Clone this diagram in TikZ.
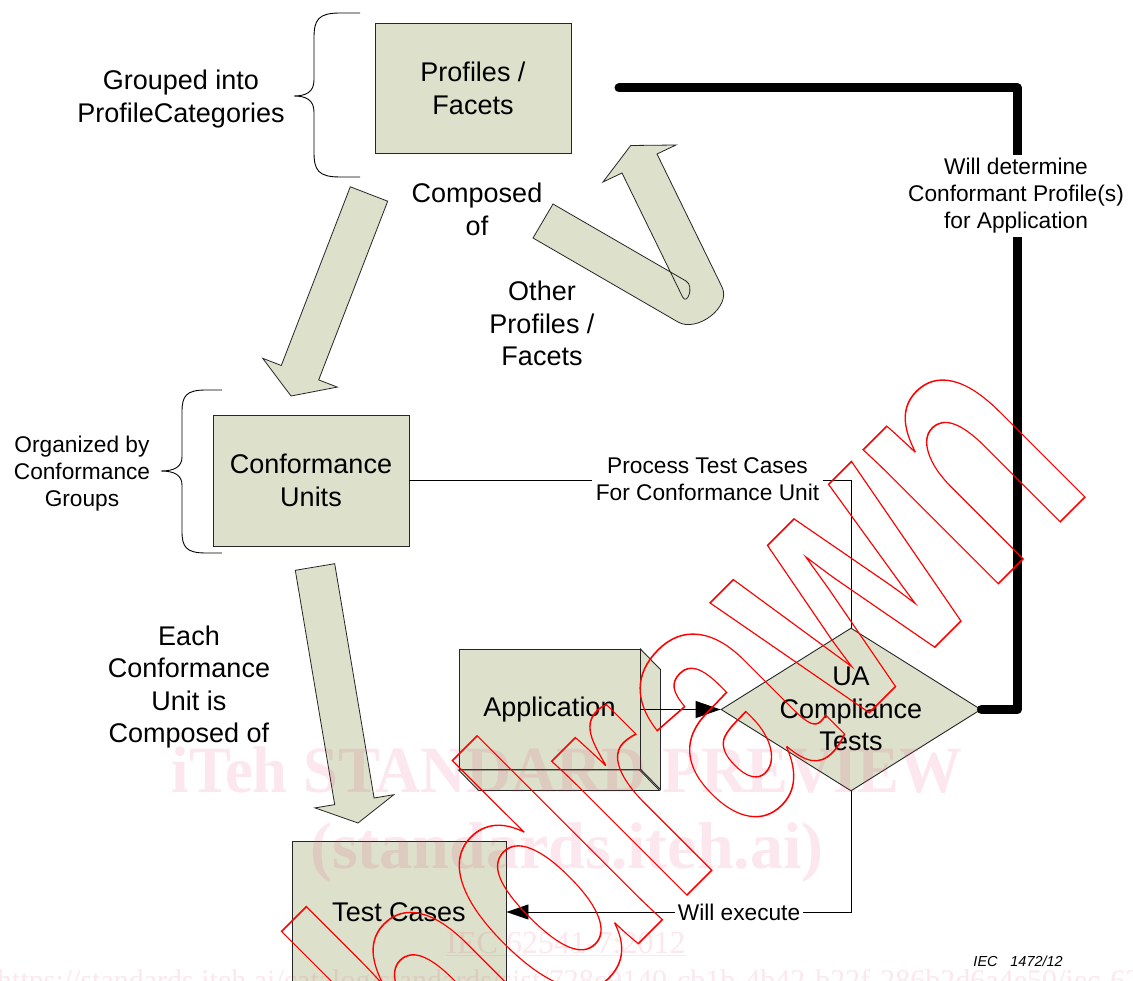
\documentclass[tikz,border=0pt]{standalone}
\usepackage{fontspec}
\setmainfont{Liberation Sans}
\newfontfamily\wmserif{Liberation Serif}
\usetikzlibrary{arrows.meta,shapes.geometric,calc}
\definecolor{boxfill}{RGB}{221,224,203}
\definecolor{wmpink}{RGB}{225,40,95}
\newcommand{\setfs}[2]{\fontsize{#1}{#2}\selectfont}
\begin{document}
\begin{tikzpicture}[x=1pt,y=-1pt,
  box/.style={draw=black!85, line width=0.9pt, fill=boxfill, inner sep=0pt, align=center, font=\setfs{27}{33}},
  blockarrow/.style={draw=black!85, line width=0.8pt, fill=boxfill, line join=miter},
  bigtext/.style={align=center, font=\setfs{27}{32.5}, inner sep=0pt},
  smalltext/.style={align=center, font=\setfs{22.7}{27}, inner sep=0pt},
  brace/.style={draw=black, line width=0.9pt},
  conn/.style={draw=black, line width=0.9pt},
  lbl/.style={fill=white, align=center, font=\setfs{22.7}{27}},
  wm/.style={text=wmpink, text opacity=0.11, inner sep=0pt},
]
\useasboundingbox (0,0) rectangle (1133,981);
\fill[white] (0,0) rectangle (1133,981);

% block arrows
\path[blockarrow] (350.3,186.8) -- (387.7,201.2) -- (318.7,379.9) -- (337.3,387.1) -- (291,396) -- (262.7,358.3) -- (281.3,365.5) -- cycle;
\path[blockarrow] (295.3,570.3) -- (334.7,563.7) -- (374.1,798.0) -- (393.8,794.7) -- (358,823) -- (315.0,807.9) -- (334.7,804.6) -- cycle;
\path[blockarrow] (533,238) -- (678,322) .. controls (697,333) and (731.7,306.8) .. (722,287) -- (657,154) -- (676,145) -- (630.7,145.5) -- (603,182) -- (622,173) -- (682.6,297) .. controls (687,306) and (694.7,286) .. (686,281) -- (553,204) -- cycle;

% braces
\draw[brace] (360,13) -- (340,13) .. controls (318,13) and (314,20) .. (314,38) -- (314,80) .. controls (314,92) and (306,96) .. (294,96) .. controls (306,96) and (314,100) .. (314,112) -- (314,152) .. controls (314,170) and (318,177) .. (340,177) -- (360,177);
\draw[brace] (222,390) -- (206,390) .. controls (186,390) and (182,396) .. (182,412) -- (182,457) .. controls (182,467) and (174,471) .. (161,471) .. controls (174,471) and (182,475) .. (182,485) -- (182,531) .. controls (182,547) and (186,553) .. (206,553) -- (222,553);

% boxes
\node[box, minimum width=196pt, minimum height=130pt] (pf) at (473,88) {Profiles /\\Facets};
\node[box, minimum width=196pt, minimum height=131pt] (cu) at (311,480.5) {Conformance\\Units};
\node[box, minimum width=214pt, minimum height=142pt] (tc) at (399,912) {Test Cases};
\node[box, minimum width=181pt, minimum height=120pt] (app) at (549.5,709.5) {Application};
\draw[blockarrow, line width=0.9pt] (app.north east) -- ++(20,20.5) -- ++(0,120) -- ++(-20,-20.5) -- cycle;
\draw[blockarrow, line width=0.9pt] (app.south west) -- ++(20,20.5) -- ++(181,0) -- ++(-20,-20.5) -- cycle;
\node[diamond, draw=black!85, line width=0.9pt, fill=boxfill, minimum width=260pt, minimum height=163pt, inner sep=0pt] (ua) at (851,709.5) {};
\node[bigtext] (uat) at (851,709) {UA\\Compliance\\Tests};

% free texts
\node[bigtext] (grp) at (181,99) {Grouped into\\ProfileCategories};
\node[bigtext] (comp) at (477,209.5) {Composed\\of};
\node[bigtext] (oth) at (542,323.5) {Other\\Profiles /\\Facets};
\node[bigtext] (each) at (189,687) {Each\\Conformance\\Unit is\\Composed of};
\node[smalltext] (org) at (82,473.5) {Organized by\\Conformance\\Groups};

% connectors
\draw[conn] (cu.east) -| (ua.north);
\node[lbl, inner sep=4pt] (ptc) at (707.5,479.5) {Process Test Cases\\For Conformance Unit};
\draw[conn, -{Triangle[length=25pt,width=17pt]}] (app.east) -- (ua.west);
\draw[conn, -{Triangle[length=22pt,width=15pt]}] (ua.south) |- (tc.east);
\node[lbl, inner sep=2.5pt] (we) at (739,912) {Will execute};
\coordinate (thstart) at (619,88);
\draw[line width=9pt, line cap=round, line join=round] (thstart) -| ($(ua.east)+(36,0)$) -- (ua.east);
\node[lbl, inner sep=3.5pt] (wdet) at (1016,196) {Will determine\\Conformant Profile(s)\\for Application};

\node[font=\setfs{14.5}{17}\itshape, anchor=base east, inner sep=0pt] (iec) at (1063,966) {IEC\hspace{0.6em} 1472/12};

% watermark
\node[wm, font=\wmserif\bfseries\setfs{66}{70}, anchor=base, xscale=0.95, transform shape] (wm1) at (567,792) {iTeh STANDARD PREVIEW};
\node[wm, font=\wmserif\bfseries\setfs{66}{70}, anchor=base] (wm2) at (567,868) {(standards.iteh.ai)};
\node[wm, font=\wmserif\setfs{32}{36}, anchor=base] (wm3) at (566,953) {\underline{IEC 62541-7:2012}};
\node[wm, font=\wmserif\setfs{30}{34}, anchor=base west] (wm4) at (-3,990) {https://standards.iteh.ai/catalog/standards/sist/728c9140-cb1b-4b42-b22f-286b2d6a4e50/iec-62541-7-2012};

\node[font=\bfseries\setfs{360}{400}, text=red, inner sep=0pt, anchor=base east, rotate=45, xscale=0.71, transform shape] (wdn) at (1096,486) {\special{pdf:literal direct 1 Tr 1.6 w}Withdrawn\special{pdf:literal direct 0 Tr}};
\end{tikzpicture}
\end{document}
